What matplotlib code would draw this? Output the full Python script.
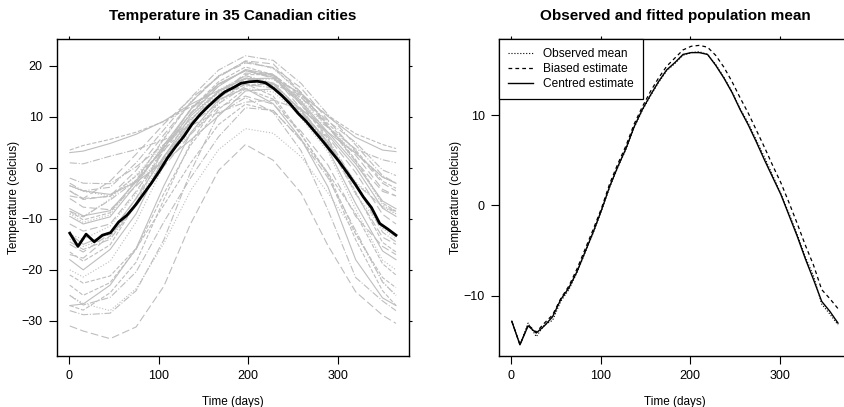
import numpy as np
import matplotlib
matplotlib.use("Agg")
import matplotlib.pyplot as plt

plt.rcParams['font.family'] = ['Liberation Sans', 'DejaVu Sans']

# days where the city values sit (day 1, mid-months, day 365)
city_days = [1, 16, 46, 75, 106, 136, 167, 197, 228, 259, 289, 320, 350, 365]

# temperature curves of the 35 cities (celcius)
st_johns = [-3.5, -4.5, -5.2, -2.8, 1.2, 5.5, 10.2, 15.1, 15.5, 11.6, 7.0, 2.9, -1.8, -3.0]
halifax = [-4.5, -6.0, -5.6, -1.6, 3.5, 8.9, 14.0, 18.3, 18.3, 14.3, 8.7, 3.5, -2.6, -4.0]
sydney = [-3.5, -4.6, -5.5, -2.4, 1.7, 6.8, 12.5, 17.4, 17.4, 13.3, 7.9, 2.9, -1.8, -3.0]
yarmouth = [-2.0, -3.0, -3.1, 0.2, 4.6, 8.7, 12.6, 16.0, 16.6, 13.8, 9.2, 5.0, -0.4, -1.5]
charlottetown = [-6.0, -7.7, -8.2, -3.6, 1.8, 8.4, 14.2, 18.6, 18.4, 13.9, 8.0, 2.5, -4.2, -5.5]
fredericton = [-8.0, -9.4, -8.4, -2.7, 3.9, 10.6, 16.0, 19.3, 18.3, 13.1, 7.0, 0.8, -6.5, -8.0]
scheffervll = [-21.0, -22.6, -21.2, -15.8, -7.3, 1.0, 8.5, 12.5, 11.2, 5.6, -1.0, -9.0, -18.8, -21.0]
arvida = [-14.0, -15.4, -13.6, -6.8, 1.7, 9.5, 15.3, 18.0, 16.6, 11.4, 4.8, -2.8, -11.8, -14.0]
bagottville = [-14.5, -16.0, -14.0, -7.3, 1.3, 9.3, 15.1, 18.1, 16.6, 11.1, 4.5, -3.1, -12.6, -14.5]
quebec = [-11.0, -12.4, -11.0, -4.6, 3.3, 10.8, 16.3, 19.1, 17.6, 12.5, 6.1, -0.9, -9.1, -11.0]
sherbrooke = [-9.5, -11.0, -9.6, -3.3, 4.5, 11.5, 16.5, 19.1, 17.8, 12.8, 6.5, 0.1, -7.9, -9.5]
montreal = [-8.5, -10.2, -8.8, -2.4, 5.7, 12.9, 18.0, 20.9, 19.6, 14.8, 8.3, 1.6, -6.9, -8.5]
ottawa = [-9.0, -10.7, -9.2, -2.6, 5.9, 13.0, 18.1, 20.8, 19.5, 14.6, 8.1, 1.2, -7.2, -9.0]
toronto = [-3.0, -4.5, -3.8, 1.0, 7.5, 13.8, 19.2, 22.0, 21.1, 16.6, 10.5, 4.5, -1.5, -3.0]
london = [-4.5, -6.2, -5.5, -0.5, 6.5, 12.8, 18.0, 20.6, 19.7, 15.7, 9.4, 3.2, -3.0, -4.5]
thunder_bay = [-13.0, -15.0, -12.8, -6.0, 2.3, 8.8, 13.6, 17.6, 16.6, 11.3, 5.1, -3.5, -11.4, -13.5]
winnipeg = [-16.5, -18.3, -15.1, -7.0, 3.8, 11.6, 16.9, 19.8, 18.3, 12.4, 5.7, -4.7, -14.6, -16.5]
the_pas = [-20.0, -21.4, -18.3, -10.6, 0.5, 8.6, 14.9, 17.7, 16.5, 9.8, 3.2, -8.1, -18.1, -20.0]
churchill = [-25.0, -26.9, -25.4, -20.4, -10.6, -1.9, 6.1, 11.8, 11.3, 5.4, -1.9, -12.3, -22.4, -25.0]
regina = [-15.0, -16.5, -12.9, -6.0, 4.1, 11.4, 16.4, 19.1, 18.1, 11.6, 4.9, -5.0, -13.6, -15.0]
pr_albert = [-18.0, -20.0, -16.0, -9.0, 2.1, 10.2, 15.0, 17.6, 16.5, 10.2, 3.7, -7.0, -16.3, -18.0]
uranium_city = [-23.0, -25.0, -22.5, -16.0, -5.0, 4.5, 11.5, 15.5, 13.5, 6.5, -1.0, -13.0, -21.5, -23.5]
edmonton = [-13.0, -14.0, -11.4, -5.0, 4.2, 10.7, 14.8, 17.0, 16.1, 10.8, 4.9, -5.2, -11.9, -13.0]
calgary = [-8.5, -9.6, -6.3, -2.5, 4.1, 9.7, 14.0, 16.4, 15.7, 10.6, 5.7, -3.0, -7.6, -8.5]
kamloops = [-5.5, -6.0, -2.6, 2.7, 8.6, 13.6, 17.8, 21.0, 20.4, 14.8, 8.1, 1.3, -4.6, -5.5]
vancouver = [3.0, 3.3, 4.8, 6.6, 9.2, 12.5, 15.2, 17.5, 17.6, 14.6, 10.1, 6.0, 3.5, 3.2]
victoria = [3.5, 4.4, 5.6, 7.0, 9.1, 12.0, 14.5, 16.3, 16.4, 14.2, 10.3, 6.7, 4.6, 3.8]
pr_george = [-9.0, -9.6, -6.1, -1.4, 4.6, 9.6, 13.4, 15.6, 14.9, 10.2, 4.6, -2.7, -7.7, -9.0]
pr_rupert = [1.0, 0.8, 2.3, 3.6, 5.5, 8.3, 10.9, 12.9, 13.3, 11.4, 8.0, 3.7, 1.6, 1.0]
whitehorse = [-17.0, -17.7, -13.3, -7.5, 0.3, 6.6, 11.9, 14.1, 12.5, 7.2, 0.6, -9.5, -15.4, -17.0]
dawson = [-27.0, -26.7, -23.0, -15.8, -3.5, 6.9, 13.4, 15.6, 12.6, 5.7, -3.7, -18.0, -25.5, -27.0]
yellowknife = [-27.0, -27.9, -24.5, -18.5, -6.2, 5.0, 13.1, 16.5, 14.1, 6.7, -1.4, -14.1, -24.1, -27.0]
iqaluit = [-25.0, -26.6, -28.0, -23.7, -14.8, -4.4, 3.6, 7.7, 6.8, 2.2, -4.9, -12.8, -22.3, -25.0]
inuvik = [-28.0, -28.8, -28.5, -24.1, -14.1, -0.7, 10.6, 13.8, 10.9, 3.4, -8.2, -21.5, -26.1, -28.0]
resolute = [-31.0, -32.0, -33.5, -31.2, -23.2, -10.9, -0.5, 4.6, 1.5, -4.9, -15.2, -24.3, -28.9, -30.5]

cities = [st_johns, halifax, sydney, yarmouth, charlottetown, fredericton,
          scheffervll, arvida, bagottville, quebec, sherbrooke, montreal,
          ottawa, toronto, london, thunder_bay, winnipeg, the_pas, churchill,
          regina, pr_albert, uranium_city, edmonton, calgary, kamloops,
          vancouver, victoria, pr_george, pr_rupert, whitehorse, dawson,
          yellowknife, iqaluit, inuvik, resolute]

# mean curves, read at 41 equally spaced days
mean_days = np.linspace(1, 365, 41)
observed_mean = [-12.8, -15.4, -13.0, -14.5, -13.2, -12.7, -10.6, -9.3, -7.4, -5.2,
                 -3.0, -0.6, 2.0, 4.2, 6.2, 8.6, 10.5, 12.1, 13.6, 14.9,
                 15.7, 16.6, 16.9, 17.0, 16.7, 15.6, 14.2, 12.6, 10.7, 9.1,
                 7.2, 5.3, 3.3, 1.3, -0.9, -3.2, -5.7, -7.8, -10.9, -12.0, -13.2]
biased_est = [-12.8, -15.4, -13.2, -14.0, -13.0, -12.1, -10.3, -8.9, -7.0, -4.8,
              -2.6, -0.3, 2.4, 4.6, 6.6, 9.0, 10.9, 12.6, 14.1, 15.4,
              16.3, 17.2, 17.6, 17.7, 17.5, 16.6, 15.3, 13.7, 11.9, 10.2,
              8.3, 6.4, 4.4, 2.5, 0.3, -2.0, -4.4, -6.6, -9.3, -10.3, -11.4]
centred_est = [-12.8, -15.4, -13.3, -14.1, -13.3, -12.3, -10.4, -9.1, -7.3, -5.1,
               -2.9, -0.5, 2.1, 4.3, 6.3, 8.7, 10.6, 12.2, 13.7, 15.0,
               15.8, 16.7, 16.9, 16.9, 16.7, 15.5, 14.1, 12.5, 10.6, 8.9,
               7.0, 5.0, 3.1, 1.2, -1.1, -3.4, -5.9, -8.2, -10.6, -11.7, -13.0]

styles = ['-', '--', ':', '-.', (0, (7, 3))]
grey = '#bebebe'

fig = plt.figure(figsize=(8.45, 4.07), dpi=100)
ax1 = fig.add_axes([0.0671, 0.1253, 0.417, 0.779])
ax2 = fig.add_axes([0.5902, 0.1253, 0.417, 0.779])

for i, c in enumerate(cities):
    ax1.plot(city_days, c, color=grey, lw=0.8, linestyle=styles[i % 5])
ax1.plot(mean_days, observed_mean, color='black', lw=2)
ax1.set_xlim(-13.6, 379.6)
ax1.set_ylim(-36.9, 25.3)
ax1.set_yticks([-30, -20, -10, 0, 10, 20])
ax1.set_title('Temperature in 35 Canadian cities', fontsize=11, fontweight='bold', pad=14)

ax2.plot(mean_days, observed_mean, color='black', lw=0.8, linestyle=':', label='Observed mean')
ax2.plot(mean_days, biased_est, color='black', lw=0.9, linestyle=(0, (3, 2.5)), label='Biased estimate')
ax2.plot(mean_days, centred_est, color='black', lw=1.0, linestyle='-', label='Centred estimate')
ax2.set_xlim(-13.6, 379.6)
ax2.set_ylim(-16.64, 18.41)
ax2.set_yticks([-10, 0, 10])
ax2.set_title('Observed and fitted population mean', fontsize=11, fontweight='bold', pad=14)
leg = ax2.legend(loc='upper left', borderaxespad=0, fancybox=False, edgecolor='black',
                 framealpha=1, fontsize=8.6, handlelength=2.1, labelspacing=0.27,
                 borderpad=0.75, handletextpad=0.85)
leg.get_frame().set_linewidth(0.9)

for ax in (ax1, ax2):
    ax.set_xticks([0, 100, 200, 300])
    ax.set_xlabel('Time (days)', fontsize=8.5, labelpad=10)
    ax.set_ylabel('Temperature (celcius)', fontsize=8.5, labelpad=1)
    ax.tick_params(direction='out', length=6, width=0.8, labelsize=9, pad=4)
    ax.tick_params(which='both', top=True, right=True, labeltop=False, labelright=False)
    for s in ax.spines.values():
        s.set_linewidth(1.0)

# top/right ticks are tiny in the original
for ax in (ax1, ax2):
    for t in ax.xaxis.get_major_ticks():
        t.tick2line.set_markersize(2)
    for t in ax.yaxis.get_major_ticks():
        t.tick2line.set_markersize(2)

fig.savefig('out.png', dpi=100)
